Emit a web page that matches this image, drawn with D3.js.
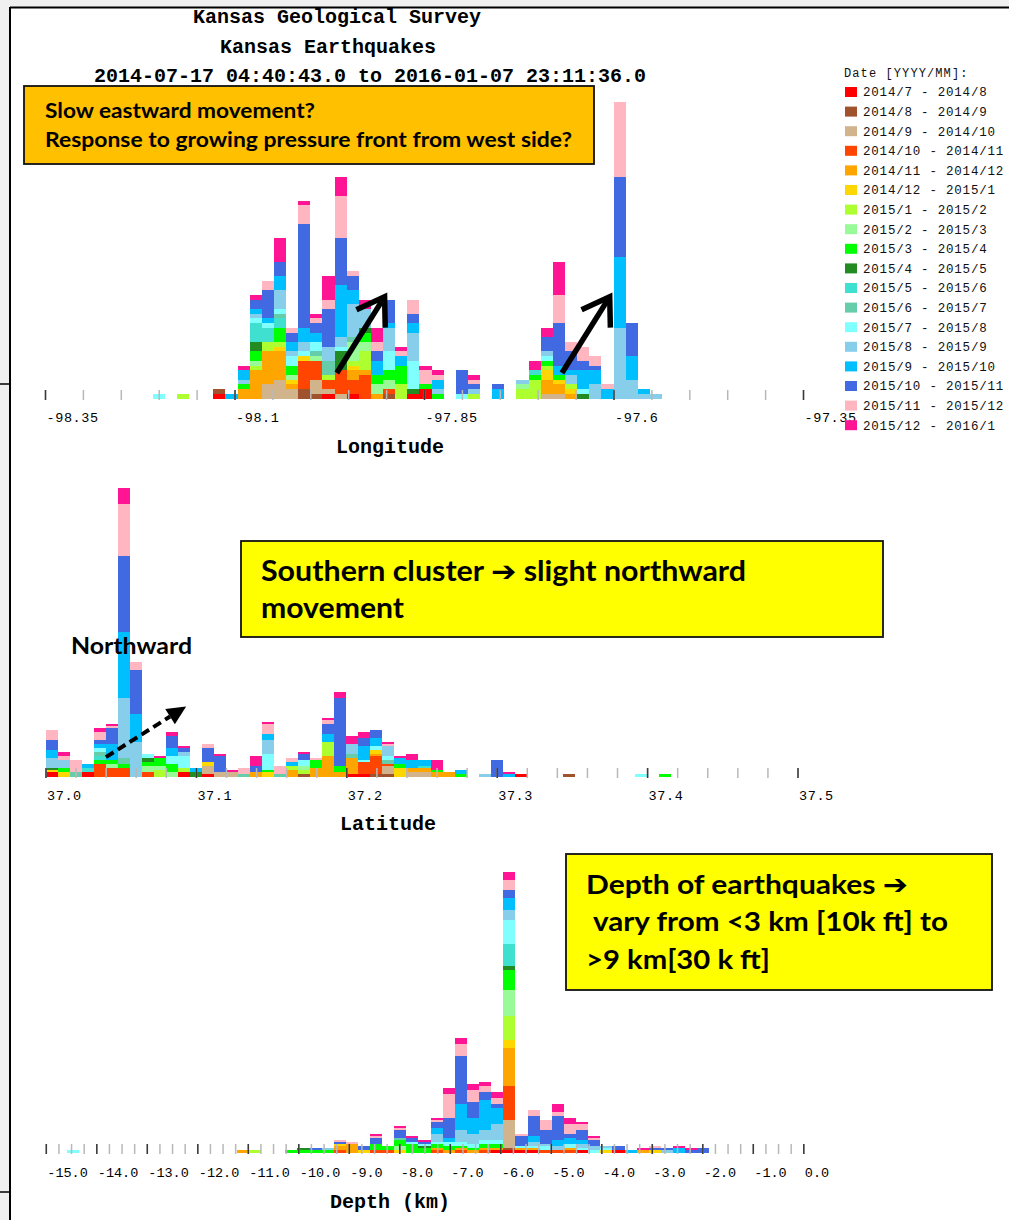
<!DOCTYPE html>
<html>
<head>
<meta charset="utf-8">
<script src="https://cdn.jsdelivr.net/npm/d3@7"></script>
<style>
  body { margin: 0; background: #ffffff; }
  svg { display: block; }
</style>
</head>
<body>
<svg id="chart" width="1009" height="1220"></svg>
<script>
// ---- periods (stack order, oldest at the bottom) ----
const periodLabels = [
  "2014/7 - 2014/8", "2014/8 - 2014/9", "2014/9 - 2014/10", "2014/10 - 2014/11",
  "2014/11 - 2014/12", "2014/12 - 2015/1", "2015/1 - 2015/2", "2015/2 - 2015/3",
  "2015/3 - 2015/4", "2015/4 - 2015/5", "2015/5 - 2015/6", "2015/6 - 2015/7",
  "2015/7 - 2015/8", "2015/8 - 2015/9", "2015/9 - 2015/10", "2015/10 - 2015/11",
  "2015/11 - 2015/12", "2015/12 - 2016/1"
];
const periodColors = [
  "#ff0000", "#a0522d", "#d2b48c", "#ff4500", "#ffa500", "#ffd700",
  "#adff2f", "#98fb98", "#00ff00", "#228b22", "#40e0d0", "#66cdaa",
  "#80ffff", "#87ceeb", "#00bfff", "#4169e1", "#ffb6c1", "#ff1493"
];

// ---- longitude histogram: bins of 0.016 deg starting at -98.208 ----
const lonBinStart = -98.208;
const lonBinWidth = 0.016;
const lonCounts = [
  [0,0,0,0,0,0,0,0,0,0,0,0,1,0,0,0,0,0],
  [0,0,0,0,0,0,0,0,0,0,0,0,0,0,0,0,0,0],
  [0,0,0,0,0,0,1,0,0,0,0,0,0,0,0,0,0,0],
  [0,0,0,0,0,0,0,0,0,0,0,0,0,0,0,0,0,0],
  [0,0,0,0,0,0,0,0,0,0,0,0,0,0,0,0,0,0],
  [1,1,0,0,0,0,0,0,0,0,0,0,0,0,0,0,0,0],
  [0,0,0,0,0,0,0,0,0,0,0,0,0,0,1,0,0,0],
  [0,0,0,0,2,0,0,0,1,0,0,0,0,1,2,0,0,1],
  [0,0,0,0,6,0,1,1,2,2,4,0,1,1,1,2,0,1],
  [0,0,3,0,7,0,2,0,0,0,3,0,1,0,1,6,2,0],
  [0,0,4,0,6,1,1,0,3,0,2,1,1,4,3,3,0,5],
  [0,0,2,0,1,1,0,1,2,0,0,0,2,1,2,2,1,0],
  [0,2,0,6,0,1,0,0,0,0,0,0,1,2,3,22,4,1],
  [0,1,3,4,0,0,0,1,0,0,0,1,2,0,2,2,1,1],
  [1,0,1,2,0,0,1,0,0,0,0,3,0,3,0,8,2,5],
  [0,0,1,5,0,0,0,0,0,4,0,0,1,2,11,10,9,4],
  [1,0,0,3,2,1,1,4,0,0,0,1,0,7,3,3,1,0],
  [0,0,0,5,1,0,4,2,2,1,0,0,0,4,0,0,0,2],
  [0,0,0,0,1,0,0,2,2,0,0,0,0,0,3,2,2,3],
  [0,1,0,1,0,0,0,2,2,0,0,0,4,5,1,5,0,0],
  [0,0,0,0,0,0,3,0,4,0,0,0,0,0,2,0,1,1],
  [1,0,0,0,0,0,0,0,0,1,0,0,6,6,2,2,3,0],
  [2,0,0,0,0,0,0,0,1,0,0,0,0,0,0,0,3,1],
  [0,0,0,0,0,0,0,0,1,0,0,0,0,1,2,0,1,1],
  [0,0,0,0,0,0,0,0,0,0,0,0,0,0,0,0,0,0],
  [0,0,0,0,0,0,0,0,0,0,0,0,1,0,0,5,0,0],
  [0,0,0,0,0,0,1,0,0,0,0,0,0,1,0,1,1,1],
  [0,0,0,0,0,0,0,0,0,0,0,0,0,0,0,0,0,0],
  [0,0,0,0,0,0,0,0,0,0,0,0,0,0,2,1,0,0],
  [0,0,0,0,0,0,0,0,0,0,0,0,0,0,0,0,0,0],
  [0,0,0,0,0,0,2,1,0,0,0,0,0,1,0,0,0,0],
  [0,0,0,0,0,0,4,0,1,0,1,0,0,0,0,0,0,2],
  [0,0,1,0,3,2,1,0,1,0,0,0,1,1,0,3,0,2],
  [0,0,1,0,2,1,0,0,1,0,0,0,0,0,2,9,6,7],
  [0,0,0,0,1,1,1,0,0,0,0,0,0,2,1,4,2,0],
  [0,0,0,0,0,0,0,0,0,1,0,0,1,0,4,2,3,0],
  [0,0,0,0,0,0,0,0,0,0,0,0,0,3,3,1,2,0],
  [0,0,0,0,0,0,0,0,0,0,0,0,0,0,2,0,1,0],
  [0,0,0,0,0,0,0,0,0,0,0,0,0,15,15,17,16,0],
  [0,0,0,0,0,0,0,0,0,0,0,0,0,4,5,7,0,0],
  [0,0,0,0,0,0,0,0,0,0,0,0,0,1,1,0,0,0],
  [0,0,0,0,0,0,0,0,0,0,0,0,0,1,0,0,0,0]
];
const lonMajorTicks = [-98.35, -98.1, -97.85, -97.6, -97.35];
const lonMinorStep = 0.05;

// ---- latitude histogram: bins of 0.008 deg starting at 37.0 ----
const latBinStart = 37.0;
const latBinWidth = 0.008;
const latCounts = [
  [2,0,0,0,0,1,0,0,0,1,0,0,0,5,4,5,5,0],
  [0,0,0,0,0,2,0,0,2,0,0,0,0,4,0,0,2,2],
  [0,0,0,0,0,0,0,0,0,0,0,2,0,0,0,0,6,0],
  [2,0,0,0,0,0,0,0,0,0,2,0,0,0,2,0,0,0],
  [0,0,0,6,0,0,0,0,2,0,2,2,2,0,2,2,4,2],
  [0,0,0,4,0,0,0,2,2,0,0,0,0,0,8,8,1,1],
  [0,0,0,4,0,0,0,0,2,0,0,3,0,30,33,38,26,8],
  [0,0,0,0,0,0,0,0,0,0,0,0,0,17,14,22,4,0],
  [0,0,0,2,0,0,0,3,2,2,0,0,2,0,0,0,0,0],
  [0,0,0,0,0,0,3,2,4,0,0,0,0,0,0,0,0,1],
  [0,0,0,0,0,0,0,2,4,0,0,0,4,0,4,6,0,2],
  [2,0,0,0,0,0,2,0,0,0,0,0,6,2,0,2,0,1],
  [0,0,0,0,0,0,0,0,0,2,0,0,0,0,2,0,0,0],
  [1,0,4,0,0,2,0,0,0,0,0,0,0,0,0,7,2,0],
  [0,0,2,0,0,0,0,0,0,0,0,0,0,0,0,8,0,1],
  [0,0,2,0,0,0,0,0,0,0,0,0,0,0,0,0,0,1],
  [0,0,0,0,0,0,0,0,0,0,0,1,0,0,0,0,3,0],
  [0,0,0,0,2,0,0,0,0,0,0,0,0,0,0,3,0,5],
  [0,0,0,0,0,2,0,0,1,0,0,0,8,7,3,0,5,1],
  [0,0,0,0,0,0,0,0,0,0,0,1,0,0,0,0,4,0],
  [0,0,0,0,3,0,2,0,0,0,0,0,0,0,2,0,2,0],
  [0,1,0,0,0,0,2,2,0,0,0,0,3,0,0,3,0,1],
  [0,0,0,0,4,0,0,0,4,0,0,0,0,0,0,0,1,0],
  [0,0,0,0,10,0,7,0,0,0,0,0,0,0,4,5,2,1],
  [0,0,0,0,2,0,0,0,3,0,0,0,0,0,0,34,0,3],
  [1,0,0,0,8,0,0,0,0,0,0,2,0,5,0,0,0,4],
  [1,0,0,6,0,0,0,0,0,0,0,0,1,0,7,4,0,3],
  [0,1,0,9,1,2,0,0,0,0,0,0,2,0,4,4,0,0],
  [0,1,4,1,0,0,0,0,0,0,0,2,2,5,0,0,1,1],
  [0,0,0,0,0,4,0,0,2,0,0,0,0,0,3,0,0,1],
  [0,0,2,0,2,0,0,0,0,0,0,0,0,0,4,0,0,3],
  [0,0,2,0,2,0,0,0,0,0,1,0,0,0,3,0,0,0],
  [0,0,0,0,2,0,0,0,1,0,0,0,0,0,0,0,0,5],
  [0,0,0,0,2,0,0,0,0,0,0,0,0,0,0,0,0,0],
  [0,0,0,0,0,0,0,0,1,0,0,0,0,0,2,0,0,0],
  [0,0,0,0,0,0,0,0,0,0,0,0,0,0,0,0,0,0],
  [0,0,0,0,0,0,0,0,0,0,0,0,0,1,0,0,0,0],
  [0,0,0,0,0,0,0,0,0,0,0,0,0,0,0,8,0,0],
  [0,0,0,0,0,0,0,0,0,0,0,0,0,0,1,0,0,1],
  [1,0,0,0,0,0,0,0,0,0,0,0,0,0,0,0,0,0],
  [0,0,0,0,0,0,0,0,0,0,0,0,0,0,0,0,0,0],
  [0,0,0,0,0,0,0,0,0,0,0,0,0,0,0,0,0,0],
  [0,0,0,0,0,0,0,0,0,0,0,0,0,0,0,0,0,0],
  [0,1,0,0,0,0,0,0,0,0,0,0,0,0,0,0,0,0],
  [0,0,0,0,0,0,0,0,0,0,0,0,0,0,0,0,0,0],
  [0,0,0,0,0,0,0,0,0,0,0,0,0,0,0,0,0,0],
  [0,0,0,0,0,0,0,0,0,0,0,0,0,0,0,0,0,0],
  [0,0,0,0,0,0,0,0,0,0,0,0,0,0,0,0,0,0],
  [0,0,0,0,0,0,0,0,0,0,0,0,0,0,0,0,0,0],
  [0,0,0,0,0,0,0,0,0,0,0,0,1,0,0,0,0,0],
  [0,0,0,0,0,0,0,0,0,0,0,0,0,0,0,0,0,0],
  [0,0,0,0,0,0,0,0,1,0,0,0,0,0,0,0,0,0]
];
const latMajorTicks = [37.0, 37.1, 37.2, 37.3, 37.4, 37.5];
const latMinorStep = 0.02;

// ---- depth histogram: bins of 0.24 km starting at -15.06 km ----
const depthBinStart = -15.06;
const depthBinWidth = 0.24;
const depthCounts = [
  [0,0,0,0,0,0,0,0,0,0,0,0,0,0,0,0,0,0],
  [0,0,0,0,0,0,0,0,0,0,0,0,0,0,0,0,0,0],
  [0,0,0,0,0,0,0,0,0,0,0,0,1,0,0,0,0,0],
  [0,0,0,0,0,0,0,0,0,0,0,0,0,0,0,0,0,0],
  [0,0,0,0,0,0,0,0,0,0,0,0,0,0,0,0,0,0],
  [0,0,0,0,0,0,0,0,0,0,0,0,0,0,0,0,0,0],
  [0,0,0,0,0,0,0,0,0,0,0,0,0,0,0,0,0,0],
  [0,0,0,0,0,0,0,0,0,0,0,0,0,0,0,0,0,0],
  [0,0,0,0,0,0,0,0,0,0,0,0,0,0,0,0,0,0],
  [0,0,0,0,0,0,0,0,0,0,0,0,0,0,0,0,0,0],
  [0,0,0,0,0,0,0,0,0,0,0,0,0,0,0,0,0,0],
  [0,0,0,0,0,0,0,0,0,0,0,0,0,0,0,0,0,0],
  [0,0,0,0,0,0,0,0,0,0,0,0,0,0,0,0,0,0],
  [0,0,0,0,0,0,0,0,0,0,0,0,0,0,0,0,0,0],
  [0,0,0,0,0,0,0,0,0,0,0,0,0,0,0,0,0,0],
  [0,0,0,0,0,0,0,0,0,0,0,0,0,0,0,0,0,0],
  [0,0,0,0,1,0,0,0,0,0,0,0,0,0,0,0,0,0],
  [0,0,0,0,0,0,1,0,0,0,0,0,0,0,0,0,0,0],
  [0,0,0,0,0,0,0,0,0,0,0,0,0,0,0,0,0,0],
  [0,0,0,0,0,0,0,0,0,0,0,0,0,0,0,0,0,0],
  [0,0,0,0,0,0,0,0,1,0,0,0,0,0,0,0,0,0],
  [0,0,0,0,0,0,0,0,1,1,0,0,0,0,0,0,0,0],
  [0,0,0,0,0,0,0,0,1,0,0,0,0,0,0,1,0,0],
  [0,0,0,0,0,0,0,0,1,0,0,0,0,1,0,0,0,0],
  [0,0,0,1,2,1,0,0,0,0,0,0,0,0,0,1,1,0],
  [0,0,0,0,4,0,0,0,0,0,0,0,0,0,0,0,1,0],
  [0,0,0,0,0,1,0,0,0,0,0,0,0,0,0,2,0,0],
  [0,0,0,1,0,0,0,0,3,0,0,0,0,0,0,3,1,1],
  [0,0,0,1,0,0,0,0,2,0,0,0,0,0,0,0,0,0],
  [0,0,0,0,0,1,0,2,3,0,0,1,0,0,0,4,1,1],
  [0,0,0,0,0,0,0,0,4,0,0,0,1,0,0,2,0,1],
  [0,0,0,0,0,0,0,0,2,1,0,0,1,0,0,1,0,1],
  [0,0,0,1,1,0,0,0,2,0,0,0,1,4,3,3,1,1],
  [0,0,0,0,1,0,0,0,2,0,0,0,2,0,2,10,12,3],
  [0,0,0,1,1,0,0,0,1,0,0,0,2,6,13,24,6,3],
  [0,0,0,0,1,0,0,0,1,0,0,0,2,5,8,8,6,3],
  [0,0,0,1,1,0,0,0,2,0,0,0,2,5,15,4,3,2],
  [1,0,0,0,1,0,0,0,2,0,0,0,2,8,8,2,3,3],
  [1,1,14,17,19,4,12,13,10,2,11,0,12,5,6,4,5,4],
  [1,0,0,0,1,0,0,0,0,0,0,0,1,0,0,5,1,0],
  [1,0,0,0,1,0,0,0,0,0,0,0,1,2,3,10,3,0],
  [0,0,0,1,0,0,0,0,0,0,0,0,2,1,0,7,5,0],
  [0,0,0,1,0,0,0,0,0,0,0,0,0,2,3,12,2,4],
  [0,0,0,1,1,0,0,0,0,0,0,0,2,0,3,2,5,3],
  [1,0,0,0,0,0,0,0,0,0,0,0,1,2,2,5,3,1],
  [0,0,0,0,0,0,0,0,0,0,0,0,1,2,0,3,1,1],
  [0,0,0,0,0,1,0,0,0,0,0,0,1,1,0,0,0,0],
  [1,0,0,0,0,0,0,0,0,0,0,0,0,0,0,2,0,0],
  [0,0,0,0,0,0,0,0,0,0,0,0,0,0,1,0,0,0],
  [0,0,0,0,1,0,0,0,0,0,0,0,0,0,0,0,0,1],
  [0,0,0,0,0,1,0,0,0,0,0,0,0,0,0,1,1,0],
  [0,0,0,0,0,0,0,0,0,0,0,0,0,1,0,1,0,0],
  [0,0,0,0,0,0,0,0,0,0,0,0,0,0,2,0,0,1],
  [0,0,0,0,0,0,0,0,0,0,0,0,0,0,0,1,0,1],
  [0,0,0,0,0,0,0,0,0,0,0,0,0,0,0,2,0,0]
];
const depthMajorTicks = [-15, -14, -13, -12, -11, -10, -9, -8, -7, -6, -5, -4, -3, -2, -1, 0];
const depthMinorStep = 0.25;

// ---- text ----
const titleLines = [
  "Kansas Geological Survey",
  "Kansas Earthquakes",
  "2014-07-17 04:40:43.0 to 2016-01-07 23:11:36.0"
];
const legendTitle = "Date [YYYY/MM]:";

const MONO = "'Liberation Mono', 'DejaVu Sans Mono', monospace";
const SANS = "Lato, 'Open Sans', 'DejaVu Sans', sans-serif";

const svg = d3.select("#chart");

// page frame
svg.append("rect").attr("x", 0).attr("y", 0).attr("width", 1009).attr("height", 1220).attr("fill", "#f0f0f0");
svg.append("rect").attr("x", 10).attr("y", 7).attr("width", 999).attr("height", 1213).attr("fill", "#ffffff");
svg.append("line").attr("x1", 10).attr("x2", 1009).attr("y1", 7.5).attr("y2", 7.5).attr("stroke", "#000").attr("stroke-width", 2);
svg.append("line").attr("x1", 10).attr("x2", 10).attr("y1", 7).attr("y2", 1220).attr("stroke", "#000").attr("stroke-width", 2);
svg.append("line").attr("x1", 0).attr("x2", 10).attr("y1", 384).attr("y2", 384).attr("stroke", "#000").attr("stroke-width", 1.5);
svg.append("line").attr("x1", 0).attr("x2", 10).attr("y1", 1192).attr("y2", 1192).attr("stroke", "#000").attr("stroke-width", 1.5);

// titles
const titleY = [16, 46, 75];
svg.append("g").selectAll("text").data(titleLines).join("text")
  .attr("x", (d, i) => [337, 328, 370][i]).attr("y", (d, i) => titleY[i])
  .attr("dy", "0.35em").attr("text-anchor", "middle")
  .attr("font-family", MONO).attr("font-weight", "bold").attr("font-size", 20)
  .attr("fill", "#000")
  .text(d => d);

function histogram(cfg) {
  const g = svg.append("g");
  const x = d3.scaleLinear().domain(cfg.domain).range(cfg.range);
  const totals = cfg.counts.map(r => d3.sum(r));
  const y = d3.scaleLinear().domain([0, d3.max(totals)]).range([cfg.base, cfg.top]);
  const series = d3.stack()
    .keys(d3.range(periodColors.length))
    .value((row, k) => row[k])(cfg.counts);
  const binX = i => x(cfg.binStart + i * cfg.binWidth);

  g.append("g").attr("shape-rendering", "crispEdges")
    .selectAll("g").data(series).join("g")
    .attr("fill", s => periodColors[s.key])
    .selectAll("rect")
    .data(s => s.map((d, i) => ({ lo: d[0], hi: d[1], i })).filter(o => o.hi > o.lo))
    .join("rect")
    .attr("x", o => binX(o.i))
    .attr("width", o => binX(o.i + 1) - binX(o.i))
    .attr("y", o => y(o.hi))
    .attr("height", o => y(o.lo) - y(o.hi));

  const minor = d3.range(cfg.domain[0], cfg.domain[1] + cfg.minorStep / 2, cfg.minorStep);
  const axisY = cfg.base + 1.5;
  g.append("g").attr("transform", `translate(0,${axisY})`)
    .call(d3.axisBottom(x).tickValues(minor).tickSize(-10).tickFormat(""))
    .call(a => a.select(".domain").remove())
    .selectAll("line").attr("stroke", "#b8b8b8").attr("stroke-width", 1.5);
  const major = g.append("g").attr("transform", `translate(0,${axisY})`)
    .call(d3.axisBottom(x).tickValues(cfg.majorTicks).tickSize(-10)
      .tickPadding(cfg.labelPad).tickFormat(cfg.format))
    .call(a => a.select(".domain").remove());
  major.selectAll("line").attr("stroke", "#3a3a3a").attr("stroke-width", 1.5);
  major.selectAll("text")
    .attr("text-anchor", "start").attr("x", 1)
    .attr("font-family", MONO).attr("font-size", 13.5)
    .attr("letter-spacing", cfg.labelSpacing).attr("fill", "#000");

  g.append("text")
    .attr("x", cfg.titleX).attr("y", cfg.titleY).attr("dy", "0.35em")
    .attr("text-anchor", "middle").attr("font-family", MONO)
    .attr("font-weight", "bold").attr("font-size", 20).attr("fill", "#000")
    .text(cfg.title);
  return { x, y };
}

const lon = histogram({
  counts: lonCounts, binStart: lonBinStart, binWidth: lonBinWidth,
  domain: [-98.35, -97.35], range: [45, 803], base: 398.5, top: 101.5,
  minorStep: lonMinorStep, majorTicks: lonMajorTicks,
  format: d => String(+d.toFixed(2)), labelPad: 12, labelSpacing: 0.6,
  title: "Longitude", titleX: 390, titleY: 446
});
const lat = histogram({
  counts: latCounts, binStart: latBinStart, binWidth: latBinWidth,
  domain: [37.0, 37.5], range: [45.5, 797.5], base: 776.5, top: 488,
  minorStep: latMinorStep, majorTicks: latMajorTicks,
  format: d => d.toFixed(1), labelPad: 12, labelSpacing: 0.6,
  title: "Latitude", titleX: 388, titleY: 823
});
const depth = histogram({
  counts: depthCounts, binStart: depthBinStart, binWidth: depthBinWidth,
  domain: [-15, 0], range: [45.8, 803.3], base: 1152.5, top: 871.5,
  minorStep: depthMinorStep, majorTicks: depthMajorTicks,
  format: d => d.toFixed(1), labelPad: 13, labelSpacing: 0,
  title: "Depth (km)", titleX: 390, titleY: 1201
});

// legend
const legend = svg.append("g").attr("font-family", MONO).attr("font-size", 12.5).attr("fill", "#111");
legend.append("text").attr("x", 844).attr("y", 73).attr("dy", "0.35em")
  .attr("letter-spacing", 1.1).attr("font-size", 12).text(legendTitle);
const legendRow = legend.selectAll("g.row").data(periodLabels).join("g")
  .attr("transform", (d, i) => `translate(0,${92 + i * 19.6})`);
legendRow.append("rect").attr("x", 845).attr("y", -5).attr("width", 12).attr("height", 10)
  .attr("fill", (d, i) => periodColors[i]);
legendRow.append("text").attr("x", 863).attr("y", 0).attr("dy", "0.35em")
  .attr("letter-spacing", 0.8).text(d => d);

// annotation: arrows
function solidArrow(x0, y0, x1, y1) {
  const ang = Math.atan2(y1 - y0, x1 - x0);
  const len = 31, spread = 0.58;
  const a1 = [x1 - len * Math.cos(ang - spread), y1 - len * Math.sin(ang - spread)];
  const a2 = [x1 - len * Math.cos(ang + spread), y1 - len * Math.sin(ang + spread)];
  const g = svg.append("g").attr("stroke", "#000").attr("stroke-width", 5.5).attr("fill", "none");
  g.append("line").attr("x1", x0).attr("y1", y0).attr("x2", x1 - 2 * Math.cos(ang)).attr("y2", y1 - 2 * Math.sin(ang));
  g.append("polyline").attr("points", [a1, [x1, y1], a2].map(p => p.join(",")).join(" "))
    .attr("stroke-linejoin", "miter").attr("stroke-miterlimit", 10);
}
solidArrow(lon.x(-97.965), lon.y(5.4), lon.x(-97.902), lon.y(21.6));
solidArrow(lon.x(-97.668), lon.y(5.4), lon.x(-97.605), lon.y(21.6));

function dashedArrow(x0, y0, x1, y1) {
  const ang = Math.atan2(y1 - y0, x1 - x0);
  const headLen = 19, headHalf = 9;
  const bx = x1 - headLen * Math.cos(ang), by = y1 - headLen * Math.sin(ang);
  svg.append("line").attr("x1", x0).attr("y1", y0).attr("x2", bx).attr("y2", by)
    .attr("stroke", "#000").attr("stroke-width", 4).attr("stroke-dasharray", "9,5");
  const nx = -Math.sin(ang), ny = Math.cos(ang);
  svg.append("polygon").attr("fill", "#000").attr("points", [
    [x1, y1], [bx + nx * headHalf, by + ny * headHalf], [bx - nx * headHalf, by - ny * headHalf]
  ].map(p => p.join(",")).join(" "));
}
dashedArrow(lat.x(37.0402), lat.y(9.7), lat.x(37.0935), lat.y(35));

// annotation boxes
function noteBox(x, y, w, h, fill, lines, size) {
  const g = svg.append("g");
  g.append("rect").attr("x", x).attr("y", y).attr("width", w).attr("height", h)
    .attr("fill", fill).attr("stroke", "#111").attr("stroke-width", 1.8);
  g.selectAll("text").data(lines).join("text")
    .attr("x", d => d.x).attr("y", d => d.y).attr("dy", "0.35em")
    .attr("font-family", SANS).attr("font-weight", "bold").attr("font-size", size)
    .attr("fill", "#000")
    .attr("textLength", d => d.w).attr("lengthAdjust", "spacingAndGlyphs")
    .text(d => d.t);
}
noteBox(24, 86, 570, 78, "#ffc000", [
  { t: "Slow eastward movement?", x: 45, y: 111, w: 270 },
  { t: "Response to growing pressure front  from west side?", x: 45, y: 140, w: 527 }
], 20);
noteBox(241, 541, 642, 96, "#ffff00", [
  { t: "Southern cluster \u2794 slight northward", x: 261, y: 571, w: 485 },
  { t: "movement", x: 261, y: 608, w: 143 }
], 28);
noteBox(566, 854, 426, 136, "#ffff00", [
  { t: "Depth of earthquakes \u2794", x: 586, y: 885, w: 322 },
  { t: "vary from <3 km [10k ft] to", x: 593, y: 922, w: 355 },
  { t: ">9 km[30 k ft]", x: 586, y: 960, w: 184 }
], 27);

svg.append("text").attr("x", 71).attr("y", 646).attr("dy", "0.35em")
  .attr("font-family", SANS).attr("font-weight", "bold").attr("font-size", 22)
  .attr("textLength", 121).attr("lengthAdjust", "spacingAndGlyphs")
  .text("Northward");
</script>
</body>
</html>
